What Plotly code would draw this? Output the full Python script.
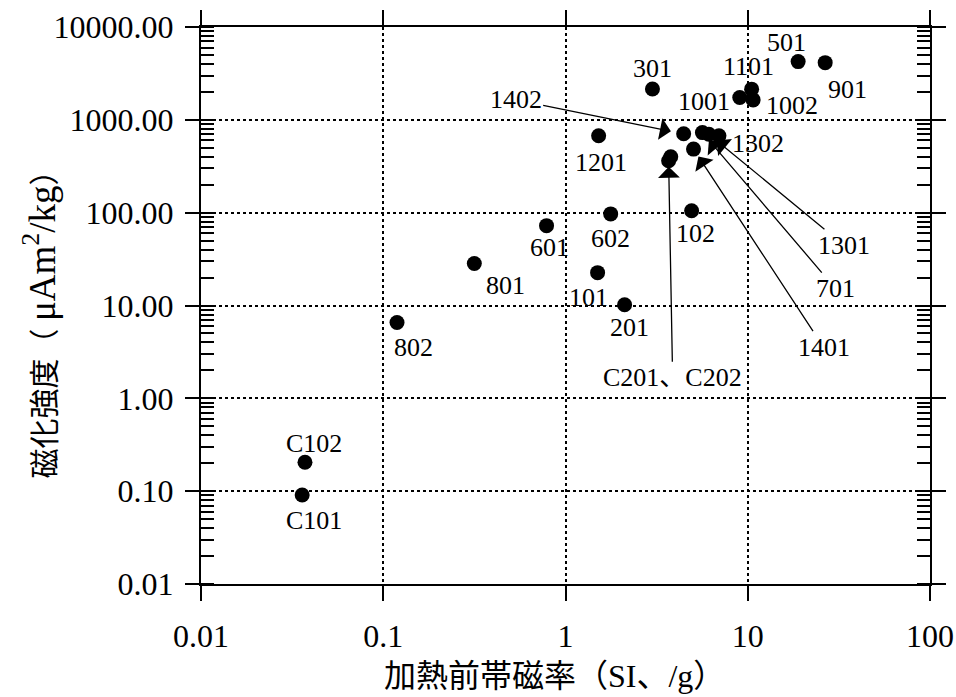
import numpy as np
import plotly.graph_objects as go

# ---- data ----
names = ["C101", "C102", "802", "801", "601", "101", "602", "201", "1201", "301",
         "102", "C201", "C202", "1402", "1401", "701", "1301", "1302", "1001",
         "1101", "1002", "501", "901"]
susceptibility = [0.0359, 0.0372, 0.119, 0.316, 0.787, 1.50, 1.77, 2.11, 1.52, 3.0,
                  4.92, 3.68, 3.78, 4.45, 5.04, 5.64, 6.12, 6.95, 9.04,
                  10.5, 10.7, 18.9, 26.6]
magnetization = [0.091, 0.205, 6.57, 28.3, 72.5, 22.6, 97, 10.2, 673, 2150,
                 105, 362, 400, 707, 484, 729, 700, 673, 1740,
                 2140, 1640, 4240, 4130]

x_tick_vals = [0.01, 0.1, 1, 10, 100]
x_tick_text = ["0.01", "0.1", "1", "10", "100"]
y_tick_vals = [0.01, 0.1, 1, 10, 100, 1000, 10000]
y_tick_text = ["0.01", "0.10", "1.00", "10.00", "100.00", "1000.00", "10000.00"]

x_title = "加熱前帯磁率（SI、/g）"
y_title = ("磁化強度（ <span style='font-size:37px'>μAm<sup>2</sup>/kg</span>）")

# ---- label placement (pixel offsets from the point; dy downward) ----
plain_labels = {
    "C101": (12, 26), "C102": (9, -19), "802": (16, 25), "801": (31, 22),
    "601": (3, 22), "101": (-9, 25), "602": (0, 25), "201": (5, 23),
    "1201": (2, 27), "301": (0, -20), "102": (4, 23), "1001": (-36, 4),
    "1101": (-3, -23), "1002": (39, 6), "501": (-12, -19), "901": (22, 27),
    "1302": (39, 8),
}
# (text, target point, ax, ay, standoff)
arrow_labels = [
    ("1402", "1402", -168, -34, 13),
    ("C201、C202", "C201", 4, 217, 6),
    ("1401", "1401", 130, 198, 9),
    ("701", "701", 133, 156, 10),
    ("1301", "1301", 135, 111, 10),
]

SERIF = "Liberation Serif, Noto Sans CJK JP, serif"

fig = go.Figure()
fig.add_trace(go.Scatter(
    x=susceptibility, y=magnetization, mode="markers",
    marker=dict(color="black", size=15),
    text=names, hoverinfo="text", showlegend=False,
))

for name, (dx, dy) in plain_labels.items():
    i = names.index(name)
    fig.add_annotation(
        x=np.log10(susceptibility[i]), y=np.log10(magnetization[i]),
        text=name, showarrow=False, xshift=dx, yshift=-dy,
        font=dict(family=SERIF, size=26, color="black"),
    )

for text, target, ax, ay, so in arrow_labels:
    i = names.index(target)
    fig.add_annotation(
        x=np.log10(susceptibility[i]), y=np.log10(magnetization[i]),
        text=text, showarrow=True, ax=ax, ay=ay,
        arrowhead=1, arrowsize=2.8, arrowwidth=1.3, arrowcolor="black",
        standoff=so,
        font=dict(family=SERIF, size=26, color="black"),
    )

fig.add_annotation(
    xref="paper", yref="paper", x=0.485, y=-0.165,
    xanchor="center", yanchor="middle",
    text=x_title, showarrow=False,
    font=dict(family=SERIF, size=32, color="black"),
)
fig.add_annotation(
    xref="paper", yref="paper", x=-0.221, y=0.48,
    xanchor="center", yanchor="middle",
    text=y_title, showarrow=False, textangle=-90,
    font=dict(family=SERIF, size=30, color="black"),
)

axis_common = dict(
    type="log", showline=True, linecolor="black", linewidth=2,
    mirror="allticks", ticks="outside", tickcolor="black", tickwidth=2,
    showgrid=True, gridcolor="black", griddash="dot", gridwidth=1.5,
    zeroline=False, automargin=False,
    tickfont=dict(family=SERIF, size=32, color="black"),
)

fig.update_xaxes(
    **axis_common, range=[-2, 2], tickvals=x_tick_vals, ticktext=x_tick_text,
    ticklen=15, ticklabelstandoff=8,
)
fig.update_yaxes(
    **axis_common, range=[-2, 4], tickvals=y_tick_vals, ticktext=y_tick_text,
    ticklen=14, ticklabelstandoff=5,
    minor=dict(ticks="inside", ticklen=13, tickwidth=1.5, tickcolor="black",
               dtick="D1", showgrid=False),
)

fig.update_layout(
    width=956, height=697,
    margin=dict(l=201, r=26, t=27, b=113),
    paper_bgcolor="white", plot_bgcolor="white",
    font=dict(family=SERIF, color="black"),
)

fig.write_html(
    "out.html",
    config={"displayModeBar": False},
    post_script="document.body.style.margin='0';document.body.style.overflow='hidden';",
)
